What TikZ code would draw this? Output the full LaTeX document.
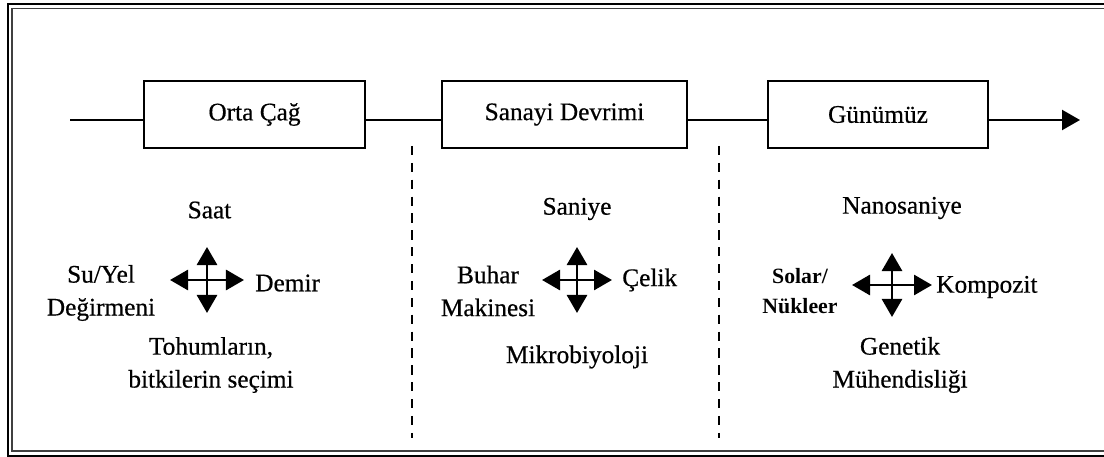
\documentclass[tikz,border=0pt]{standalone}
\usepackage{fontspec}
\setmainfont{Liberation Serif}[FakeBold=0.5]
\newfontfamily\smallbold{Liberation Serif Bold}
\usetikzlibrary{arrows.meta}

\begin{document}
\begin{tikzpicture}[x=0.025cm,y=-0.025cm,
  every node/.style={inner sep=0pt,font=\fontsize{18}{23.4}\selectfont},
  era/.style={draw,line width=2pt,minimum height=1.675cm},
  tl/.style={line width=1.6pt},
  tip/.style={-{Triangle[length=4.5mm,width=5mm]}},
  cross/.style={line width=2pt,{Triangle[length=4.5mm,width=5mm]}-{Triangle[length=4.5mm,width=5mm]}},
  sep/.style={line width=1.5pt,dash pattern=on 6.5pt off 5.5pt}]
\useasboundingbox (0,0) rectangle (1104,457);
\clip (0,0) rectangle (1104,457);
% double frame
\draw[line width=1.6pt] (8,4) rectangle (1112,456);
\draw[line width=0.8pt,black!75] (12,8.5) rectangle (1108,451);

% time line
\coordinate (T0) at (70,120);
\coordinate (T1) at (1080,120);
\node[era,minimum width=5.525cm] (P1) at (254.5,114.5) {Orta Çağ};
\node[era,minimum width=6.125cm] (P2) at (564.5,114.5) {Sanayi Devrimi};
\node[era,minimum width=5.5cm] (P3) at (878,114.5) {Günümüz};
\draw[tl] (T0) -- (T0 -| P1.west)
  (T0 -| P1.east) -- (T0 -| P2.west)
  (T0 -| P2.east) -- (T0 -| P3.west);
\draw[tl,tip] (T0 -| P3.east) -- (T1);

% separators
\coordinate (D1) at (412,146);
\coordinate (D2) at (412,438);
\coordinate (D3) at (719,146);
\coordinate (D4) at (719,438);
\draw[sep] (D1) -- (D2);
\draw[sep] (D3) -- (D4);

% first period
\node (P4) at (209.5,210) {Saat};
\node[align=center] (P5) at (101,293) {Su/Yel\\Değirmeni};
\node[anchor=west] (P6) at (255,283) {Demir};
\node[align=center] (P7) at (211,365) {Tohumların,\\bitkilerin seçimi};
\coordinate (C1w) at (170,280);
\coordinate (C1e) at (244,280);
\coordinate (C1n) at (207,247);
\coordinate (C1s) at (207,313);
\draw[cross] (C1w) -- (C1e);
\draw[cross] (C1n) -- (C1s);

% second period
\node (P8) at (577,209) {Saniye};
\node[align=center] (P9) at (488,291) {Buhar\\Makinesi};
\node[anchor=west] (P10) at (622,280) {Çelik};
\node (P11) at (577,357) {Mikrobiyoloji};
\coordinate (C2w) at (542,280);
\coordinate (C2e) at (612,280);
\coordinate (C2n) at (577,247);
\coordinate (C2s) at (577,313);
\draw[cross] (C2w) -- (C2e);
\draw[cross] (C2n) -- (C2s);

% third period
\node (P12) at (902,208) {Nanosaniye};
\node[align=center,font=\smallbold\fontsize{15.5}{21.3}\selectfont] (P13) at (800,291) {Solar/\\Nükleer};
\node[anchor=west] (P14) at (936,287) {Kompozit};
\node[align=center] (P15) at (900,365) {Genetik\\Mühendisliği};
\coordinate (C3w) at (852,285);
\coordinate (C3e) at (932,285);
\coordinate (C3n) at (892,253);
\coordinate (C3s) at (892,317);
\draw[cross] (C3w) -- (C3e);
\draw[cross] (C3n) -- (C3s);
\end{tikzpicture}
\end{document}
